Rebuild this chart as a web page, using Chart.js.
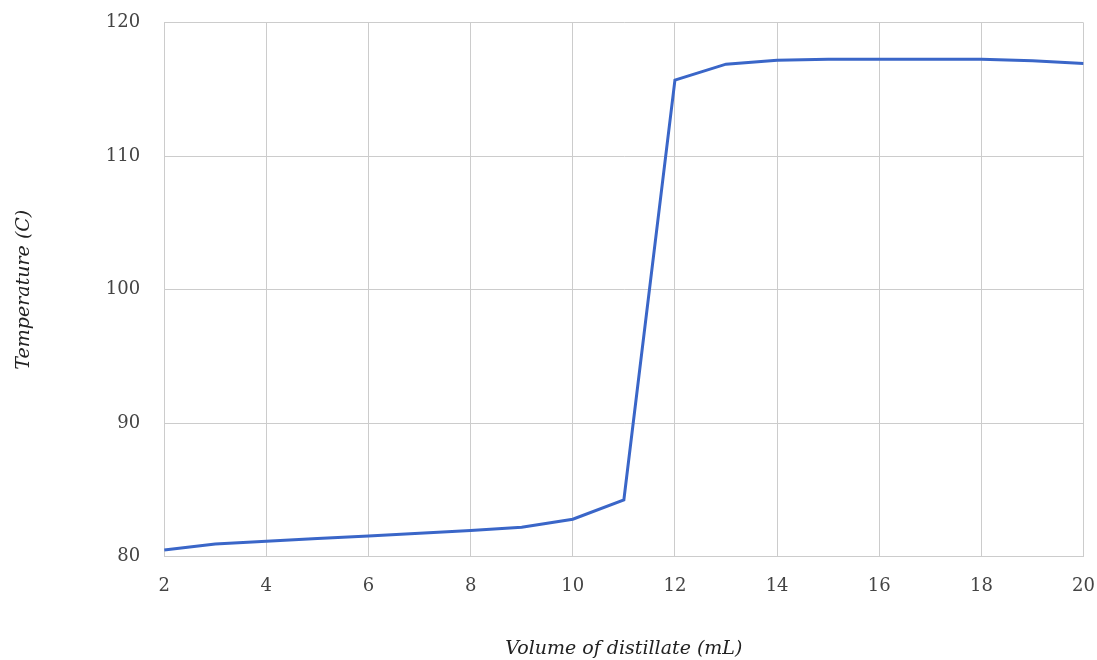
<!DOCTYPE html>
<html>
<head>
<meta charset="utf-8">
<script src="https://cdn.jsdelivr.net/npm/chart.js@4/dist/chart.umd.min.js"></script>
<style>
  html, body { margin: 0; padding: 0; background: #fff; }
  #wrap { width: 1097px; height: 660px; }
</style>
</head>
<body>
<div id="wrap"><canvas id="chart" width="1097" height="660"></canvas></div>
<script>
// volume de destilado (mL) e temperatura (C)
const volume = [2, 3, 4, 5, 6, 7, 8, 9, 10, 11, 12, 13, 14, 15, 16, 17, 18, 19, 20];
const temperature = [80.5, 80.95, 81.15, 81.35, 81.55, 81.75, 81.95, 82.2, 82.8, 84.25, 115.7, 116.9, 117.2, 117.27, 117.27, 117.27, 117.27, 117.15, 116.95];
const xTicks = [2, 4, 6, 8, 10, 12, 14, 16, 18, 20];
const yTicks = [80, 90, 100, 110, 120];

const font = "'DejaVu Serif', 'Liberation Serif', serif";

const ctx = document.getElementById('chart');
const myChart = new Chart(ctx, {
  type: 'line',
  data: {
    datasets: [{
      label: 'Temperature',
      data: volume.map((v, i) => ({ x: v, y: temperature[i] })),
      borderColor: '#3a66c8',
      borderWidth: 3,
      pointRadius: 0,
      tension: 0,
      fill: false
    }]
  },
  options: {
    responsive: false,
    animation: false,
    layout: { padding: { left: 13, right: 0, top: 0, bottom: 0 } },
    plugins: {
      legend: { display: false },
      tooltip: { enabled: false }
    },
    scales: {
      x: {
        type: 'linear',
        min: 2,
        max: 20,
        afterBuildTicks: (axis) => { axis.ticks = xTicks.map(v => ({ value: v })); },
        // marcas invisíveis só para afastar os rótulos do eixo
        grid: { color: '#cccccc', lineWidth: 1, drawTicks: true, tickLength: 17, tickColor: 'rgba(0,0,0,0)' },
        border: { color: '#cccccc' },
        ticks: { color: '#444', font: { family: font, size: 18 }, padding: 2, maxRotation: 0 },
        title: {
          display: true,
          text: 'Volume of distillate (mL)',
          color: '#222',
          font: { family: font, size: 19, style: 'italic' },
          padding: { top: 38, bottom: 0 }
        }
      },
      y: {
        min: 80,
        max: 120,
        afterBuildTicks: (axis) => { axis.ticks = yTicks.map(v => ({ value: v })); },
        grid: { color: '#cccccc', lineWidth: 1, drawTicks: true, tickLength: 12, tickColor: 'rgba(0,0,0,0)' },
        border: { color: '#cccccc' },
        ticks: { color: '#444', font: { family: font, size: 18 }, padding: 12 },
        title: {
          display: true,
          text: 'Temperature (C)',
          color: '#222',
          font: { family: font, size: 19, style: 'italic' },
          padding: { top: 0, bottom: 58 }
        }
      }
    }
  }
});
</script>
</body>
</html>
